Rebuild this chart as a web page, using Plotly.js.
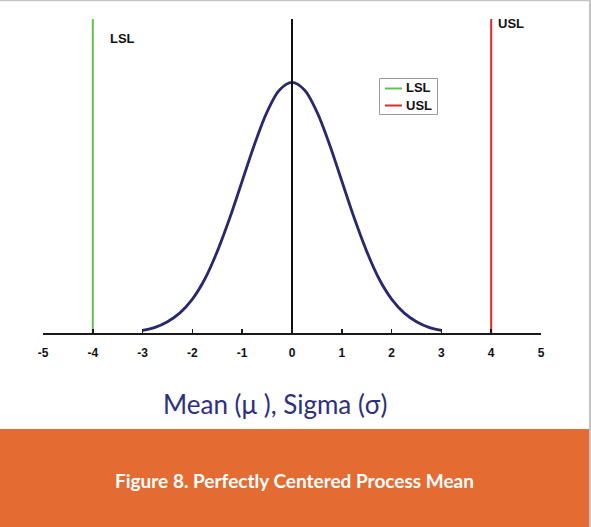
<!DOCTYPE html>
<html>
<head>
<meta charset="utf-8">
<script src="https://cdn.plot.ly/plotly-3.0.1.min.js"></script>
<style>
  html, body { margin: 0; padding: 0; background: #ffffff; }
  #chart { width: 591px; height: 527px; }
</style>
</head>
<body>
<div id="chart"></div>
<script>
// Curve (sigma units vs. density height)
const curveX = [-3, -2.75, -2.5, -2.25, -2, -1.75, -1.5, -1.25, -1, -0.75, -0.5, -0.25, 0,
                0.25, 0.5, 0.75, 1, 1.25, 1.5, 1.75, 2, 2.25, 2.5, 2.75, 3];
const curveY = [0.004, 0.009, 0.018, 0.032, 0.054, 0.086, 0.130, 0.183, 0.242, 0.301, 0.352, 0.387, 0.399,
                0.387, 0.352, 0.301, 0.242, 0.183, 0.130, 0.086, 0.054, 0.032, 0.018, 0.009, 0.004];
const meanX = 0;
const lslX = -4;
const uslX = 4;
const lineTop = 0.5;
const tickVals = [-5, -4, -3, -2, -1, 0, 1, 2, 3, 4, 5];
const tickText = ['-5', '-4', '-3', '-2', '-1', '0', '1', '2', '3', '4', '5'];
const legendNames = ['LSL', 'USL'];
const axisTitle = 'Mean (μ ), Sigma (σ)';
const figureCaption = 'Figure 8. Perfectly Centered Process Mean';

const colLSL = '#62c050', colUSL = '#e4262f';

const traces = [
  { x: curveX, y: curveY, mode: 'lines', line: { color: '#27286e', width: 2.8, shape: 'spline' },
    showlegend: false, hoverinfo: 'skip' },
  { x: [meanX, meanX], y: [0, lineTop], mode: 'lines', line: { color: '#111111', width: 2 },
    showlegend: false, hoverinfo: 'skip' },
  { x: [lslX, lslX], y: [0, lineTop], mode: 'lines', name: legendNames[0], line: { color: colLSL, width: 2 }, showlegend: false },
  { x: [uslX, uslX], y: [0, lineTop], mode: 'lines', name: legendNames[1], line: { color: colUSL, width: 2 }, showlegend: false }
];

const L = 43, R = 50, T = 19, B = 194;
const W = 591, H = 527;
const pw = W - L - R, ph = H - T - B;
const px = v => (v - L) / pw;      // pixel x -> paper x
const py = v => (H - B - v) / ph;  // pixel y -> paper y

const boldFont = { family: 'Liberation Sans, Arial, sans-serif', size: 13, color: '#111111' };

const layout = {
  width: W, height: H,
  margin: { l: L, r: R, t: T, b: B, pad: 0 },
  paper_bgcolor: '#ffffff', plot_bgcolor: '#ffffff',
  font: { family: 'Liberation Sans, Arial, sans-serif', size: 12, color: '#111111' },
  xaxis: {
    range: [-5, 5], tickmode: 'array', tickvals: tickVals, ticktext: tickText,
    showgrid: false, zeroline: false, showline: true, linecolor: '#1a1a1a', linewidth: 2,
    ticks: 'inside', ticklen: 4, tickwidth: 1.5, tickcolor: '#1a1a1a',
    ticklabelstandoff: 8,
    tickfont: { family: 'Liberation Sans, Arial, sans-serif', size: 12, color: '#111111', weight: 'bold' },
    fixedrange: true
  },
  yaxis: {
    range: [0, 0.5], visible: false, showgrid: false, zeroline: false, fixedrange: true
  },
  showlegend: false,
  annotations: [
    { xref: 'paper', yref: 'paper', x: px(122), y: py(38), text: '<b>' + legendNames[0] + '</b>', showarrow: false,
      xanchor: 'center', yanchor: 'middle', font: boldFont },
    { xref: 'paper', yref: 'paper', x: px(511), y: py(23), text: '<b>' + legendNames[1] + '</b>', showarrow: false,
      xanchor: 'center', yanchor: 'middle', font: boldFont },
    // legend labels
    { xref: 'paper', yref: 'paper', x: px(404), y: py(88), text: '<b>' + legendNames[0] + '</b>', showarrow: false,
      xanchor: 'left', yanchor: 'middle', font: boldFont },
    { xref: 'paper', yref: 'paper', x: px(404), y: py(105), text: '<b>' + legendNames[1] + '</b>', showarrow: false,
      xanchor: 'left', yanchor: 'middle', font: boldFont },
    { xref: 'paper', yref: 'paper', x: px(275), y: py(404), text: axisTitle, showarrow: false,
      xanchor: 'center', yanchor: 'middle',
      font: { family: 'Lato, Open Sans, sans-serif', size: 26, color: '#2d307c' } },
    { xref: 'paper', yref: 'paper', x: px(294), y: py(481), text: '<b>' + figureCaption + '</b>', showarrow: false,
      xanchor: 'center', yanchor: 'middle',
      font: { family: 'Lato, Open Sans, sans-serif', size: 19, color: '#ffffff' } }
  ],
  shapes: [
    { type: 'rect', xref: 'paper', yref: 'paper', x0: px(0), x1: px(589), y0: py(429), y1: py(528),
      fillcolor: '#e46c33', line: { width: 0 }, layer: 'below' },
    { type: 'rect', xref: 'paper', yref: 'paper', x0: px(0), x1: px(591), y0: py(0), y1: py(1.2),
      fillcolor: '#c4c4c4', line: { width: 0 }, layer: 'below' },
    { type: 'rect', xref: 'paper', yref: 'paper', x0: px(589), x1: px(591), y0: py(0), y1: py(528),
      fillcolor: '#c4c4c4', line: { width: 0 }, layer: 'below' },
    // legend box and samples
    { type: 'rect', xref: 'paper', yref: 'paper', x0: px(379.5), x1: px(437.5), y0: py(78.5), y1: py(114.5),
      fillcolor: '#ffffff', line: { color: '#9a9a9a', width: 1 }, layer: 'above' },
    { type: 'line', xref: 'paper', yref: 'paper', x0: px(385), x1: px(402), y0: py(88.5), y1: py(88.5),
      line: { color: colLSL, width: 2 }, layer: 'above' },
    { type: 'line', xref: 'paper', yref: 'paper', x0: px(385), x1: px(402), y0: py(105.5), y1: py(105.5),
      line: { color: colUSL, width: 2 }, layer: 'above' }
  ]
};

Plotly.newPlot('chart', traces, layout, { displayModeBar: false, staticPlot: true });
</script>
</body>
</html>
